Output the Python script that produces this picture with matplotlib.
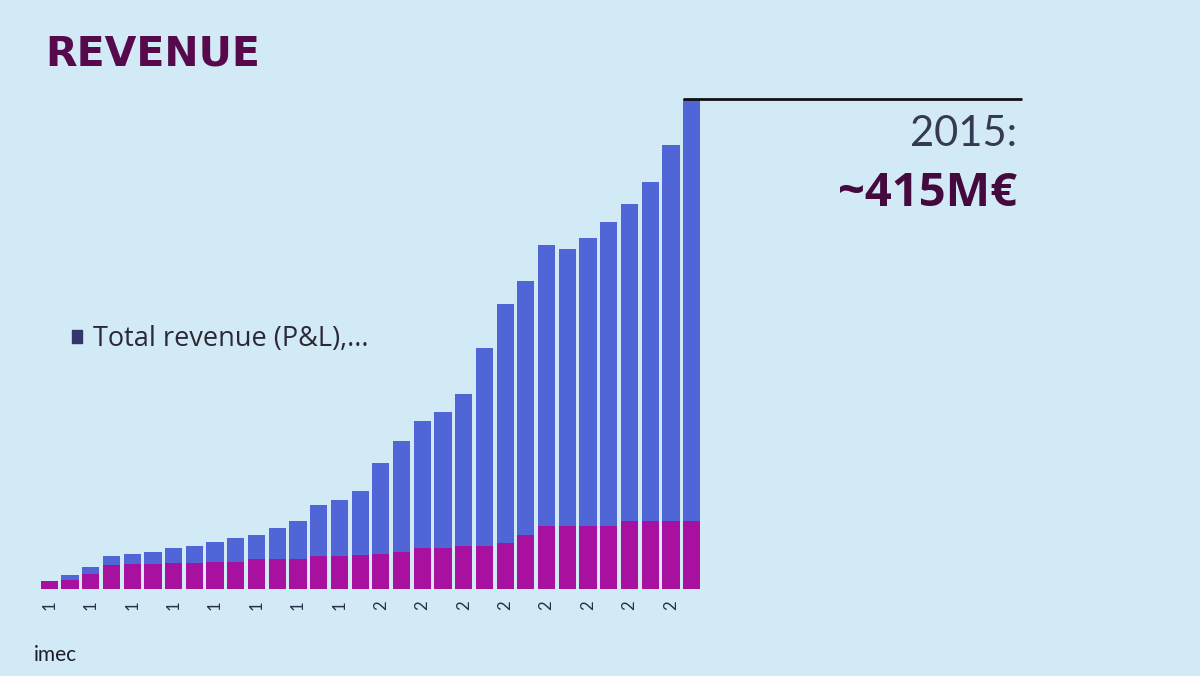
import numpy as np
import matplotlib
matplotlib.use("Agg")
import matplotlib.pyplot as plt

# imec revenue, M EUR (1984-2015)
years = list(range(1984, 2016))
total_revenue = [7, 12, 19, 28, 30, 31, 35, 36, 40, 43, 46, 52, 58, 71, 75, 83,
                 107, 125, 142, 150, 165, 204, 241, 261, 291, 288, 297, 311, 326, 345, 376, 415]
grant = [7, 8, 13, 20, 21, 21, 22, 22, 23, 23, 25, 25, 25, 28, 28, 29,
         30, 31, 35, 35, 36, 36, 39, 46, 53, 53, 53, 53, 58, 58, 58, 58]
# the slide's axis labels are cut off to the first digit
tick_labels = [str(y)[0] if i % 2 == 0 else "" for i, y in enumerate(years)]

BG = "#d2eaf6"
BLUE = "#5166d6"
MAGENTA = "#a8119f"
PURPLE = "#560a4c"

plt.rcParams["font.family"] = ["Lato", "DejaVu Sans"]

fig = plt.figure(figsize=(12, 6.76), dpi=100, facecolor=BG)
W, H = 1200, 676

# axes spans from the first bar to the end of the callout line
ax = fig.add_axes([40 / W, 87 / H, 982 / W, 490 / H])
ax.set_facecolor(BG)

x = np.arange(len(years))
ax.bar(x, total_revenue, width=0.83, color=BLUE, label="Total revenue (P&L),...")
ax.bar(x, grant, width=0.83, color=MAGENTA)

ax.set_xlim(-0.45, -0.45 + 982 / 20.72)
ax.set_ylim(0, total_revenue[-1])

# callout line from the 2015 bar
ax.plot([x[-1] - 0.42, ax.get_xlim()[1]], [total_revenue[-1], total_revenue[-1]],
        color="#111111", lw=2, clip_on=False, solid_capstyle="butt")

ax.set_xticks(x)
ax.set_xticklabels(tick_labels, rotation=90, fontsize=12, color="#27304a")
ax.tick_params(axis="x", length=0, pad=8)
ax.set_yticks([])
for s in ax.spines.values():
    s.set_visible(False)

leg = ax.legend(loc="upper left", bbox_to_anchor=(0.008, 0.588), frameon=False,
                prop={"family": "Open Sans", "size": 19.5},
                handlelength=0.36, handleheight=0.36, handletextpad=0.4,
                labelcolor="#2a2a35")
leg.legend_handles[0].set_color("#33366a")

fig.text(45 / W, 1 - 54 / H, "REVENUE", fontsize=29.5, fontweight="bold",
         family="DejaVu Sans", color=PURPLE, va="center", ha="left")
fig.text(1017 / W, 1 - 134 / H, "2015:", fontsize=30,
         color="#353a52", va="center", ha="right")
fig.text(1017 / W, 1 - 194 / H, "~415M€", fontsize=34, fontweight="bold",
         family="Open Sans", color="#450a3d", va="center", ha="right")
fig.text(34 / W, 1 - 655 / H, "imec", fontsize=15, color="#1e1e2a",
         va="center", ha="left")

fig.savefig("out.png", dpi=100, facecolor=BG)
